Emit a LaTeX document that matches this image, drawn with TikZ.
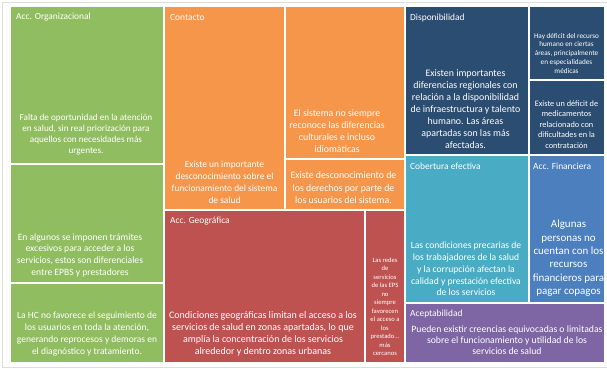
\documentclass[tikz,border=0pt]{standalone}
\usepackage{fontspec}
\setmainfont{Carlito}
\definecolor{cgreen}{RGB}{145,189,97}
\definecolor{corange}{RGB}{246,150,74}
\definecolor{cred}{RGB}{190,82,80}
\definecolor{cnavy}{RGB}{43,77,113}
\definecolor{caqua}{RGB}{73,172,196}
\definecolor{cblue}{RGB}{76,127,190}
\definecolor{cpurple}{RGB}{126,101,163}
\definecolor{cframe}{RGB}{222,222,222}
\newcommand{\fs}[2]{\fontsize{#1}{#2}\selectfont}
\begin{document}
\begin{tikzpicture}[x=1pt,y=-1pt,
  ttl/.style={text=white,anchor=west,inner sep=0pt,font=\fs{9.4}{11}},
  body/.style={text=white,align=center,inner sep=0pt,anchor=center}]
\useasboundingbox (0,0) rectangle (607,369);
\fill[white] (0,0) rectangle (607,369);
\draw[cframe,line width=0.8pt] (2.8,2.8) rectangle (620,367.5);
% tiles
\fill[cgreen] (11,7) rectangle (163,163.3);
\fill[cgreen] (11,165.3) rectangle (163,282);
\fill[cgreen] (11,284) rectangle (163,361.7);
\fill[corange] (165,7) rectangle (283.8,209);
\fill[corange] (285.8,7) rectangle (403.7,158.3);
\fill[corange] (285.8,160.3) rectangle (403.7,209);
\fill[cred] (165,211) rectangle (363.7,361.7);
\fill[cred] (365.7,211) rectangle (403.7,361.7);
\fill[cnavy] (405.7,7) rectangle (527.5,153.7);
\fill[cnavy] (529.5,7) rectangle (604,79.3);
\fill[cnavy] (529.5,81.3) rectangle (604,153.7);
\fill[caqua] (405.7,155.7) rectangle (527.5,302.3);
\fill[cblue] (529.5,155.7) rectangle (604,302.3);
\fill[cpurple] (405.7,304.3) rectangle (604,361.7);
% titles
\node[ttl] (t1) at (16,17.5) {Acc. Organizacional};
\node[ttl] (t2) at (170,17.5) {Contacto};
\node[ttl] (t3) at (170,221) {Acc. Geográfica};
\node[ttl] (t4) at (410,17.5) {Disponibilidad};
\node[ttl] (t5) at (410,166) {Cobertura efectiva};
\node[ttl] (t6) at (533,166) {Acc. Financiera};
\node[ttl] (t7) at (410,314) {Aceptabilidad};
% bodies
\node[body,font=\fs{9.2}{11}] (b1) at (86,134.5) {Falta de oportunidad en la atención\\en salud, sin real priorización para\\aquellos con necesidades más\\urgentes.};
\node[body,font=\fs{9.6}{11.8}] (b2) at (80,255.3) {En algunos se imponen trámites\\excesivos para acceder a los\\servicios, estos son diferenciales\\entre EPBS y prestadores};
\node[body,font=\fs{9.5}{12}] (b3) at (87,334) {La HC no favorece el seguimiento de\\los usuarios en toda la atención,\\generando reprocesos y demoras en\\el diagnóstico y tratamiento.};
\node[body,font=\fs{9.4}{12}] (b4) at (224.5,182) {Existe un importante\\desconocimiento sobre el\\funcionamiento del sistema\\de salud};
\node[body,font=\fs{9.8}{12.1}] (b5) at (337,130.8) {El sistema no siempre\\reconoce las diferencias\\culturales e incluso\\idiomáticas};
\node[body,font=\fs{9.8}{12.2}] (b6) at (343.5,187.8) {Existe desconocimiento de\\los derechos por parte de\\los usuarios del sistema.};
\node[body,font=\fs{10}{12.3}] (b7) at (263,333.8) {Condiciones geográficas limitan el acceso a los\\servicios de salud en zonas apartadas, lo que\\amplía la concentración de los servicios\\alrededor y dentro zonas urbanas};
\node[body,font=\fs{6.6}{8.5}] (b8) at (385,306.7) {Las redes\\de\\servicios\\de las EPS\\no\\siempre\\favorecen\\el acceso a\\los\\prestado...\\más\\cercanos};
\node[body,font=\fs{9.9}{12}] (b9) at (465.5,108.7) {Existen importantes\\diferencias regionales con\\relación a la disponibilidad\\de infraestructura y talento\\humano. Las áreas\\apartadas son las más\\afectadas.};
\node[body,font=\fs{7.2}{8.75}] (b10) at (566.5,53.2) {Hay déficit del recurso\\humano en ciertas\\áreas, principalmente\\en especialidades\\médicas};
\node[body,font=\fs{8.3}{10.5}] (b11) at (566.5,124.3) {Existe un déficit de\\medicamentos\\relacionado con\\dificultades en la\\contratación};
\node[body,font=\fs{9.6}{11.9}] (b12) at (466,268.8) {Las condiciones precarias de\\los trabajadores de la salud\\y la corrupción afectan la\\calidad y prestación efectiva\\de los servicios};
\node[body,font=\fs{11}{13.3}] (b13) at (568.5,258.3) {Algunas\\personas no\\cuentan con los\\recursos\\financieros para\\pagar copagos};
\node[body,font=\fs{9.7}{11.3}] (b14) at (507,340.3) {Pueden existir creencias equivocadas o limitadas\\sobre el funcionamiento y utilidad de los\\servicios de salud};
\end{tikzpicture}
\end{document}
